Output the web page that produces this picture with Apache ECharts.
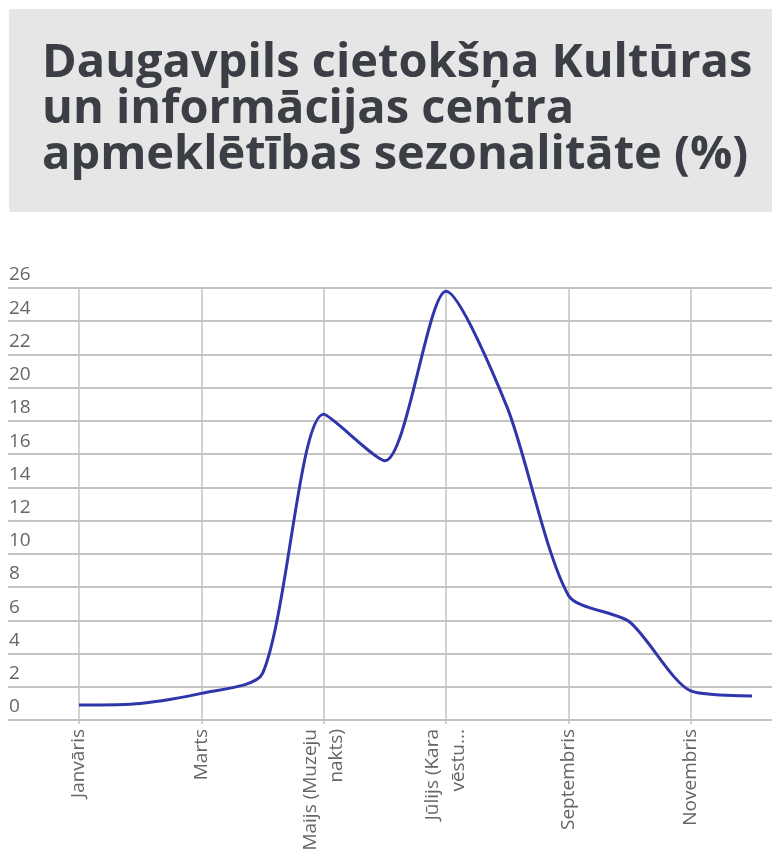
<!DOCTYPE html>
<html>
<head>
<meta charset="utf-8">
<script src="https://cdn.jsdelivr.net/npm/echarts@6/dist/echarts.min.js"></script>
<style>
  html, body { margin: 0; padding: 0; background: #fff; }
  #chart { width: 772px; height: 856px; }
</style>
</head>
<body>
<div id="chart"></div>
<script>
// mēneši (kategorijas) un apmeklētība %
var months = ['Janvāris', 'Februāris', 'Marts', 'Aprīlis', 'Maijs (Muzeju\nnakts)', 'Jūnijs',
              'Jūlijs (Kara\nvēstu...', 'Augusts', 'Septembris', 'Oktobris', 'Novembris', 'Decembris'];
var visits = [0.9, 1.0, 1.6, 2.8, 18.4, 15.6, 25.8, 18.8, 7.5, 5.9, 1.75, 1.45];
var yMin = 0, yMax = 26, yStep = 2;

var titleText = 'Daugavpils cietokšņa Kultūras\nun informācijas centra\napmeklētības sezonalitāte (%)';

var myChart = echarts.init(document.getElementById('chart'));
var option = {
    animation: false,
    textStyle: { fontFamily: 'Open Sans' },
    graphic: [
        {   // pelēkais virsraksta fons
            type: 'rect',
            shape: { x: 9, y: 9, width: 775, height: 203, r: 3 },
            style: { fill: '#e6e6e6' }
        }
    ],
    title: {
        text: titleText,
        left: 37,
        top: 36,
        textStyle: {
            fontFamily: 'Open Sans',
            fontWeight: 'bold',
            fontSize: 47,
            lineHeight: 46,
            color: '#3b3f45'
        }
    },
    grid: [
        { left: 8, right: 0, top: 288, bottom: 136 },   // horizontālās līnijas + y skala
        { left: 79, right: 20, top: 288, bottom: 136 }  // pati līkne
    ],
    xAxis: [
        { type: 'value', gridIndex: 0, min: 0, max: 1, show: false },
        {
            type: 'category',
            gridIndex: 1,
            data: months,
            boundaryGap: false,
            axisLine: { show: false },
            axisTick: { show: true, interval: 1, length: 4, lineStyle: { color: '#c2c2c2', width: 1.5 } },
            axisLabel: {
                interval: 1,
                rotate: 90,
                margin: 9,
                fontSize: 19,
                lineHeight: 26,
                color: '#666'
            },
            splitLine: { show: true, interval: 1, lineStyle: { color: '#c2c2c2', width: 1.5 } }
        }
    ],
    yAxis: [
        {
            type: 'value',
            gridIndex: 0,
            min: yMin,
            max: yMax,
            interval: yStep,
            axisLine: { show: false },
            axisTick: { show: false },
            axisLabel: {
                inside: true,
                margin: 1,
                align: 'left',
                verticalAlign: 'bottom',
                lineHeight: 26,
                fontSize: 19,
                color: '#666'
            },
            splitLine: { show: true, lineStyle: { color: '#c4c4c4', width: 1.8 } }
        },
        { type: 'value', gridIndex: 1, min: yMin, max: yMax, interval: yStep, show: false }
    ],
    series: [
        {
            name: 'Apmeklētība',
            type: 'line',
            xAxisIndex: 1,
            yAxisIndex: 1,
            data: visits,
            smooth: 0.25,
            showSymbol: false,
            lineStyle: { color: '#2f35aa', width: 3 }
        }
    ]
};
myChart.setOption(option);
</script>
</body>
</html>
